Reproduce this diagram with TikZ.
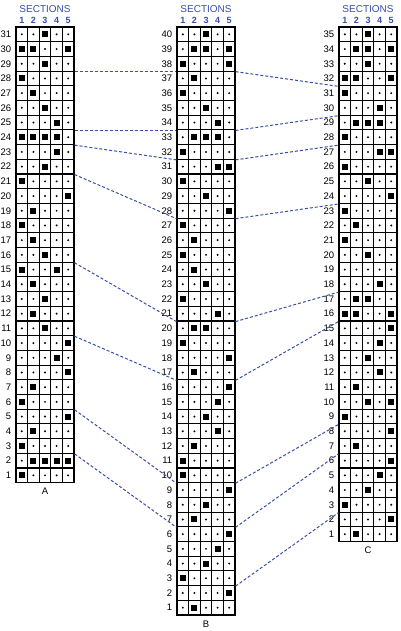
\documentclass[tikz,border=0pt]{standalone}
\usepackage{fontspec}
\setmainfont{Liberation Sans}
\usepackage{xcolor}
\usepackage{tikz}
\usetikzlibrary{positioning}
\definecolor{secblue}{RGB}{58,78,168}

\begin{document}
\begin{tikzpicture}[
  x=1pt, y=-1pt,
  cell/.style={draw, line width=1.1pt, minimum width=11.6pt, minimum height=14.7pt, inner sep=0pt},
  rowno/.style={font=\fontsize{9.5}{9.5}\selectfont, inner sep=1pt},
  colno/.style={font=\fontsize{9}{9}\selectfont\bfseries, text=secblue, inner sep=1pt},
  sect/.style={font=\fontsize{10}{10}\selectfont, text=secblue, inner sep=1pt},
  gridname/.style={font=\fontsize{9.5}{9.5}\selectfont, inner sep=1pt},
  link/.style={draw=secblue, line width=1pt, dash pattern=on 3pt off 2pt}
]
  \useasboundingbox (0,0) rectangle (400,631);

  % the three grids: name / rows / left edge
  \foreach \g/\n/\gx in {A/31/16, B/40/177, C/35/339} {
    \foreach \r in {1,...,\n} {
      \foreach \c in {1,...,5} {
        \node[cell] (\g-\r-\c) at ({\gx+(\c-0.5)*11.6}, {27+(\n-\r+0.5)*14.7}) {};
        \fill (\g-\r-\c.center) circle (1.1pt);
      }
      \node[rowno, left=3pt of \g-\r-1] (\g-l\r) {\r};
    }
    \foreach \c in {1,...,5}
      \node[colno, above=1.5pt of \g-\n-\c] (\g-n\c) {\c};
    \node[sect, above=2pt of \g-n3] (\g-sec) {SECTIONS};
    \node[gridname, below=4pt of \g-1-3] (\g-name) {\g};
  }

  % filled squares
  \foreach \r/\c in {31/3, 30/1, 30/2, 30/5, 29/3, 28/1, 27/2, 26/3, 25/4, 24/1,
      24/2, 24/3, 24/4, 23/4, 22/3, 21/1, 20/5, 19/2, 18/1, 17/2, 16/3, 15/1,
      15/4, 14/2, 13/3, 12/2, 11/3, 10/5, 9/4, 8/5, 7/2, 6/1, 5/5, 4/2, 3/1,
      2/2, 2/3, 2/4, 2/5, 1/1}
    \fill (A-\r-\c.center) ++(-3,-3) rectangle ++(6,6);
  \foreach \r/\c in {40/3, 39/2, 39/3, 39/5, 38/1, 38/5, 37/2, 36/1, 35/3, 34/4,
      33/2, 33/3, 33/4, 32/1, 31/4, 31/5, 30/1, 29/3, 28/5, 27/1, 26/2, 25/1,
      24/2, 23/3, 22/1, 21/4, 20/2, 20/3, 19/1, 18/5, 17/2, 16/5, 15/4, 14/3,
      13/4, 12/2, 11/1, 10/1, 9/5, 8/3, 7/2, 6/5, 5/4, 4/3, 3/1, 2/5, 1/2}
    \fill (B-\r-\c.center) ++(-3,-3) rectangle ++(6,6);
  \foreach \r/\c in {35/3, 34/2, 34/3, 34/5, 33/3, 32/1, 32/2, 32/5, 31/1, 30/4,
      29/2, 29/3, 29/4, 28/1, 27/4, 27/5, 26/1, 25/3, 24/5, 23/1, 22/2, 21/1,
      20/3, 18/4, 17/2, 17/3, 16/1, 16/2, 16/5, 15/5, 14/4, 13/3, 12/4, 11/2,
      10/3, 10/5, 9/1, 8/5, 7/2, 6/5, 5/4, 4/3, 3/1, 2/5, 1/2}
    \fill (C-\r-\c.center) ++(-3,-3) rectangle ++(6,6);

  % dashed links between row boundaries
  \foreach \a/\b in {29/38, 25/34, 24/32, 22/28, 16/21, 11/17, 6/10, 3/7}
    \draw[link] (A-\a-5.south east) -- (B-\b-1.south west);
  \foreach \b/\c in {38/32, 34/30, 32/28, 28/24, 21/18, 17/16, 10/9, 7/7, 3/3}
    \draw[link] (B-\b-5.south east) -- (C-\c-1.south west);
\end{tikzpicture}
\end{document}
